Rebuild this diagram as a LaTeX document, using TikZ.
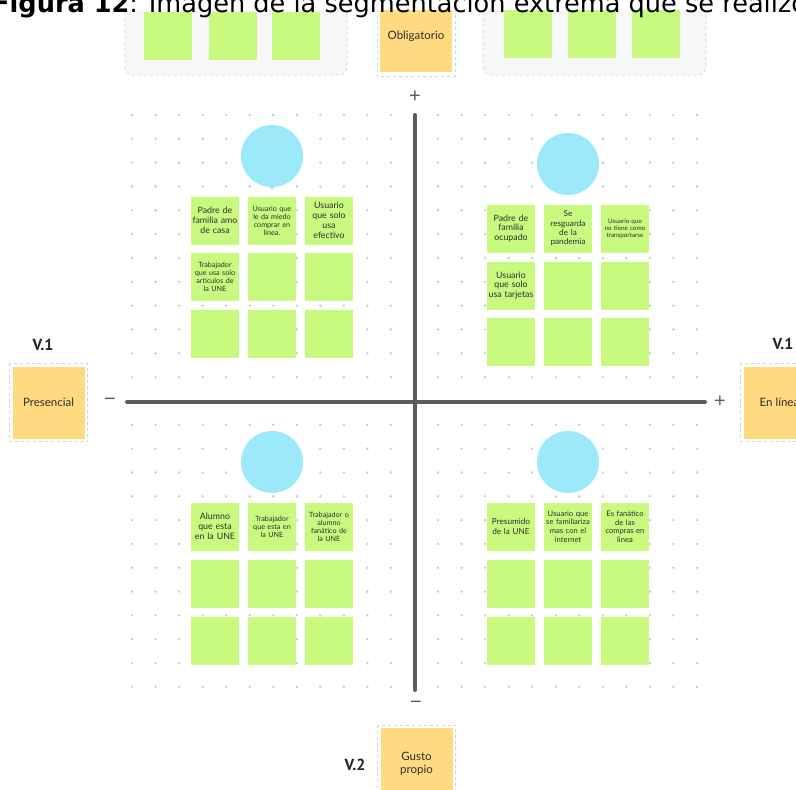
\documentclass[tikz,border=0pt]{standalone}
\usepackage{fontspec}
\setmainfont{Lato}
\newfontfamily\capfont{DejaVu Sans}
\newfontfamily\vfont{PT Sans}
\newfontfamily\signfont{Liberation Sans}
\definecolor{notegreen}{HTML}{C9FA80}
\definecolor{noteorange}{HTML}{FFDA80}
\definecolor{circcyan}{HTML}{9DE9FC}
\definecolor{dotgray}{HTML}{C8C8C8}
\definecolor{axisgray}{HTML}{5C5C5C}
\definecolor{contfill}{HTML}{F7F7F7}
\definecolor{framegray}{HTML}{D2D2D2}
\definecolor{txtgray}{HTML}{2E2E2E}
\newcommand{\fs}[1]{\fontsize{#1}{\fpeval{1.12*#1}}\selectfont}
\tikzset{
  note/.style={rectangle, fill=notegreen, minimum width=48pt, minimum height=48pt,
    inner sep=1.5pt, text width=45pt, align=center, text=txtgray},
  bignote/.style={rectangle, fill=noteorange, minimum width=72pt, minimum height=72pt,
    inner sep=2pt, align=center, text=txtgray, font=\fs{11.5}},
  persona/.style={circle, fill=circcyan, minimum size=62pt, inner sep=0pt},
  frame/.style={draw=framegray, dashed, dash pattern=on 3pt off 3pt, line width=0.6pt},
  container/.style={frame, fill=contfill, rounded corners=8pt},
  axis/.style={draw=axisgray, line width=4pt, line cap=round},
  sign/.style={font=\signfont\fs{20}, text=axisgray, inner sep=0pt},
  vlabel/.style={font=\vfont\bfseries\fs{16}, text=black!85, inner sep=0pt}
}
\begin{document}
\begin{tikzpicture}[x=1pt, y=-1pt]
\useasboundingbox (0,0) rectangle (796,790);
\fill[white] (0,0) rectangle (796,790);
% dot grid
\foreach \i in {0,...,24}{
  \foreach \j in {0,...,24}{
    \fill[dotgray] ({132+\i*23.54},{115+\j*23.83}) circle (1.3pt);
  }
}
% top containers
\draw[container] (125,-20) rectangle (347,75);
\draw[container] (483,-20) rectangle (706,75);
\node[note] (g1) at (168,36) {};
\node[note] (g2) at (232.5,36) {};
\node[note] (g3) at (296,36) {};
\node[note] (g4) at (528,34) {};
\node[note] (g5) at (592,34) {};
\node[note] (g6) at (656,34) {};
\node[bignote] (oblig) at (416,36) {Obligatorio};
\draw[frame] ([shift={(-3pt,3pt)}]oblig.north west) rectangle ([shift={(3pt,-4pt)}]oblig.south east);
% caption band
\fill[white] (0,-5) rectangle (796,10);
\node[anchor=base west, inner sep=0pt, font=\capfont\fs{25.6}] (cap) at (-8,12)
  {\textbf{Figura 12}: Imagen de la segmentación extrema que se realizó};
% axes
\coordinate (ytop) at (415,115);
\coordinate (ybot) at (415,690);
\coordinate (xl) at (127,402);
\coordinate (xr) at (705,402);
\draw[axis] (ytop) -- (ybot);
\draw[axis] (xl) -- (xr);
\node[sign] (splus) at (415,97) {+};
\node[sign] (sminus) at (416,705) {−};
\node[sign] (wminus) at (110,402) {−};
\node[sign] (eplus) at (720,402) {+};
% side labels
\node[bignote] (pres) at (48.5,402.5) {Presencial};
\draw[frame] ([shift={(-3pt,3pt)}]pres.north west) rectangle ([shift={(3pt,-3pt)}]pres.south east);
\node[vlabel] (v1l) at (43,345) {V.1};
\node[bignote] (enl) at (779.5,402.5) {En línea};
\draw[frame] ([shift={(-3pt,3pt)}]enl.north west) rectangle ([shift={(3pt,-3pt)}]enl.south east);
\node[vlabel] (v1r) at (783,344) {V.1};
\node[bignote] (gusto) at (416.5,764) {Gusto\\propio};
\draw[frame] ([shift={(-3pt,3pt)}]gusto.north west) rectangle ([shift={(3pt,-3pt)}]gusto.south east);
\node[vlabel] (v2) at (355,765) {V.2};
% personas
\node[persona] (ctl) at (272,156) {};
\fill[circcyan] ([xshift=-3pt,yshift=1pt]ctl.south) -- ([yshift=-3pt]ctl.south) -- ([xshift=3pt,yshift=1pt]ctl.south) -- cycle;
\node[persona] (ctr) at (568,164) {};
\node[persona] (cbl) at (272,462) {};
\node[persona] (cbr) at (568,462) {};
% top-left quadrant
\node[note, font=\fs{8.8}] (tl11) at (215,220.5) {Padre de\\familia amo\\de casa};
\node[note, font=\fs{7.2}] (tl12) at (272,220.5) {Usuario que\\le da miedo\\comprar en\\linea.};
\node[note, font=\fs{8.8}] (tl13) at (329,220.5) {Usuario\\que solo\\usa\\efectivo};
\node[note, font=\fs{7.2}] (tl21) at (215,277) {Trabajador\\que usa solo\\articulos de\\la UNE};
\node[note] (tl22) at (272,277) {};
\node[note] (tl23) at (329,277) {};
\node[note] (tl31) at (215,334) {};
\node[note] (tl32) at (272,334) {};
\node[note] (tl33) at (329,334) {};
% top-right quadrant
\node[note, font=\fs{8.8}] (tr11) at (511,228.5) {Padre de\\familia\\ocupado};
\node[note, font=\fs{8.2}] (tr12) at (568,228.5) {Se\\resguarda\\de la\\pandemia};
\node[note, font=\fs{6.3}] (tr13) at (625,228.5) {Usuario que\\no tiene como\\transportarse};
\node[note, font=\fs{8.8}] (tr21) at (511,285.5) {Usuario\\que solo\\usa tarjetas};
\node[note] (tr22) at (568,285.5) {};
\node[note] (tr23) at (625,285.5) {};
\node[note] (tr31) at (511,342) {};
\node[note] (tr32) at (568,342) {};
\node[note] (tr33) at (625,342) {};
% bottom-left quadrant
\node[note, font=\fs{8.8}] (bl11) at (215,526.5) {Alumno\\que esta\\en la UNE};
\node[note, font=\fs{7.2}] (bl12) at (272,526.5) {Trabajador\\que esta en\\la UNE};
\node[note, font=\fs{7.2}] (bl13) at (329,526.5) {Trabajador o\\alumno\\fanático de\\la UNE};
\node[note] (bl21) at (215,583.5) {};
\node[note] (bl22) at (272,583.5) {};
\node[note] (bl23) at (329,583.5) {};
\node[note] (bl31) at (215,640.5) {};
\node[note] (bl32) at (272,640.5) {};
\node[note] (bl33) at (329,640.5) {};
% bottom-right quadrant
\node[note, font=\fs{8.2}] (br11) at (511,526.5) {Presumido\\de la UNE};
\node[note, font=\fs{7.6}] (br12) at (568,526.5) {Usuario que\\se familiariza\\mas con el\\internet};
\node[note, font=\fs{7.6}] (br13) at (625,526.5) {Es fanático\\de las\\compras en\\linea};
\node[note] (br21) at (511,583.5) {};
\node[note] (br22) at (568,583.5) {};
\node[note] (br23) at (625,583.5) {};
\node[note] (br31) at (511,640.5) {};
\node[note] (br32) at (568,640.5) {};
\node[note] (br33) at (625,640.5) {};
\end{tikzpicture}
\end{document}
